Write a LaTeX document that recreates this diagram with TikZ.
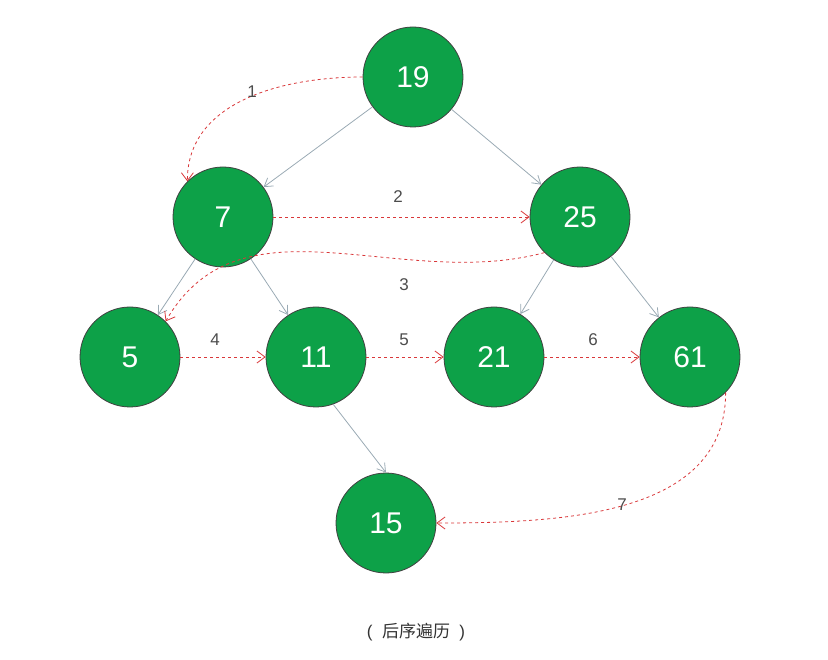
\documentclass[tikz,border=0pt]{standalone}
\usepackage{fontspec}
\setmainfont{Liberation Sans}
\newfontfamily\cjk{Noto Sans CJK SC}
\usetikzlibrary{arrows.meta}
\definecolor{nodegreen}{HTML}{0DA148}
\definecolor{edgegray}{HTML}{9AAAB4}
\definecolor{trav}{HTML}{D9383A}
\tikzset{
  tn/.style={circle,draw=black!75,line width=0.8pt,fill=nodegreen,minimum size=100pt,inner sep=0pt,text=white,font=\fontsize{30}{30}\selectfont},
  tedge/.style={draw=edgegray,line width=0.8pt,-{Straight Barb[length=8pt,width=10pt]}},
  tarr/.style={draw=trav,dashed,line width=0.8pt,-{Straight Barb[length=8pt,width=12pt]}},
  lab/.style={text=black!70,font=\fontsize{17}{17}\selectfont}
}
\begin{document}
\begin{tikzpicture}[x=1pt,y=-1pt]
\useasboundingbox (0,0) rectangle (828,660);
\node[tn] (n19) at (413,77) {19};
\node[tn] (n7) at (223,217) {7};
\node[tn] (n25) at (580,217) {25};
\node[tn] (n5) at (130,357) {5};
\node[tn] (n11) at (316,357) {11};
\node[tn] (n21) at (494,357) {21};
\node[tn] (n61) at (690,357) {61};
\node[tn] (n15) at (386,523) {15};
\draw[tedge] (n19) -- (n7);
\draw[tedge] (n19) -- (n25);
\draw[tedge] (n7) -- (n5);
\draw[tedge] (n7) -- (n11);
\draw[tedge] (n25) -- (n21);
\draw[tedge] (n25) -- (n61);
\draw[tedge] (n11.-70) -- (n15.north);
\draw[tarr] (n19.west) to[out=180,in=90] (n7.north west);
\draw[tarr] (n7.east) -- (n25.west);
\draw[tarr] (n25.-135) to[out=195,in=60] (n5.north east);
\draw[tarr] (n5.east) -- (n11.west);
\draw[tarr] (n11.east) -- (n21.west);
\draw[tarr] (n21.east) -- (n61.west);
\draw[tarr] (n61.-45) to[out=-90,in=0] (n15.east);
\node[lab] (l1) at (252,92) {1};
\node[lab] (l2) at (398,197) {2};
\node[lab] (l3) at (404,285) {3};
\node[lab] (l4) at (215,340) {4};
\node[lab] (l5) at (404,340) {5};
\node[lab] (l6) at (593,340) {6};
\node[lab] (l7) at (622,505) {7};
\node[text=black!80,font=\fontsize{17}{17}\selectfont] (cap) at (416,632) {(\ \ {\cjk 后序遍历}\ \ )};
\end{tikzpicture}
\end{document}
